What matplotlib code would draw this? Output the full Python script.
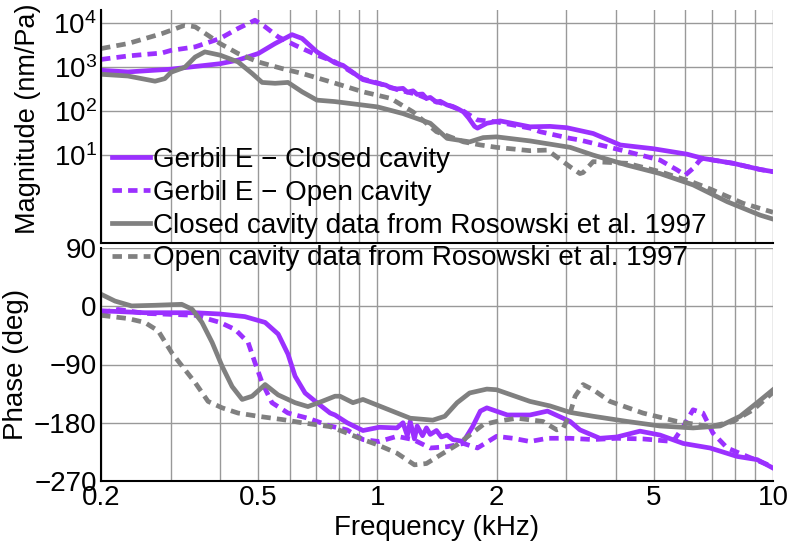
import numpy as np
import matplotlib
matplotlib.use("Agg")
import matplotlib.pyplot as plt
from matplotlib.ticker import FixedLocator, NullLocator, LogFormatterSciNotation, NullFormatter

plt.rcParams['font.family'] = ['Liberation Sans', 'DejaVu Sans']
plt.rcParams['mathtext.default'] = 'regular'

# ---- magnitude (nm/Pa) ----
f_mag_ce = [0.2, 0.234, 0.30, 0.40, 0.444, 0.50, 0.551, 0.608, 0.645, 0.703, 0.781, 0.818, 0.919, 1.0,
            1.05, 1.08, 1.12, 1.16, 1.19, 1.23, 1.26, 1.30, 1.33, 1.36, 1.41, 1.44, 1.50, 1.55, 1.60, 1.65,
            1.70, 1.76, 1.79, 1.89, 2.04, 2.43, 2.73, 3.01, 3.51, 4.11, 4.97, 6.06, 6.65, 7.93, 9.28, 10.0]
mag_ce = [850, 780, 900, 1200, 1450, 2050, 3450, 5500, 4500, 2230, 1250, 1100, 520, 430,
          390, 340, 320, 330, 270, 290, 240, 245, 195, 205, 160, 168, 138, 128, 112, 96,
          70, 45, 41, 53, 60, 44, 45, 42, 31, 17, 14, 10.5, 8.4, 6.5, 4.7, 4.2]

f_mag_oe = [0.2, 0.234, 0.258, 0.285, 0.30, 0.346, 0.40, 0.444, 0.490, 0.520, 0.561, 0.619, 0.703, 0.781,
            0.919, 1.0, 1.12, 1.26, 1.36, 1.50, 1.65, 1.79, 2.0, 2.43, 2.58, 3.07, 3.25, 4.2, 5.18, 5.72,
            6.0, 6.28, 6.54, 6.65, 7.93, 9.28, 10.0]
mag_oe = [1500, 1800, 1950, 2100, 2400, 2900, 4500, 7600, 11700, 8300, 4900, 3160, 1880, 1320,
          540, 440, 310, 240, 180, 140, 100, 63, 57, 41, 34, 24, 22, 12.5, 7.7, 4.6,
          3.5, 5.0, 7.7, 8.4, 6.5, 4.7, 4.2]

f_mag_cr = [0.2, 0.234, 0.274, 0.290, 0.301, 0.326, 0.346, 0.366, 0.40, 0.444, 0.482, 0.511, 0.551, 0.594,
            0.645, 0.703, 0.78, 1.0, 1.16, 1.36, 1.50, 1.71, 1.85, 2.0, 2.43, 3.07, 3.51, 4.28, 5.18,
            6.28, 7.66, 9.28, 10.0]
mag_cr = [690, 630, 480, 550, 770, 1000, 1700, 2230, 1880, 1320, 720, 450, 430, 450,
          275, 178, 165, 125, 88, 53, 24, 20, 25, 26, 21, 15, 10, 5.9, 3.8,
          2.1, 0.87, 0.43, 0.35]

f_mag_or = [0.2, 0.234, 0.285, 0.326, 0.346, 0.373, 0.40, 0.444, 0.499, 0.574, 0.645, 0.77, 0.919, 1.08,
            1.23, 1.41, 1.65, 1.82, 2.0, 2.43, 2.69, 3.07, 3.25, 3.31, 3.51, 4.28, 5.18, 6.28, 6.93,
            8.40, 10.0]
mag_or = [2650, 3450, 5800, 9000, 8300, 5300, 3450, 2050, 1320, 930, 720, 450, 275, 195,
          96, 34, 20, 17, 15, 12.6, 13, 5.4, 3.8, 4.0, 7.1, 6.5, 4.2, 2.4, 1.7,
          0.8, 0.5]

# ---- phase (deg) ----
f_ph_ce = [0.2, 0.258, 0.346, 0.40, 0.462, 0.520, 0.561, 0.594, 0.619, 0.656, 0.703, 0.759, 0.781, 0.838,
           0.919, 1.01, 1.12, 1.16, 1.19, 1.21, 1.24, 1.26, 1.30, 1.33, 1.36, 1.41, 1.45, 1.50, 1.55,
           1.65, 1.74, 1.82, 1.89, 2.13, 2.43, 2.69, 3.07, 3.25, 3.65, 4.03, 4.61, 5.18, 5.93, 6.93,
           8.11, 9.12, 10.0]
ph_ce = [-7, -10, -10, -12, -16, -25, -43, -74, -108, -134, -149, -165, -168, -180,
         -192, -187, -188, -180, -200, -178, -205, -185, -200, -188, -198, -192, -202, -199, -206,
         -209, -186, -162, -157, -168, -168, -162, -178, -191, -204, -202, -193, -199, -212, -219,
         -232, -237, -250]

f_ph_oe = [0.2, 0.221, 0.258, 0.346, 0.40, 0.437, 0.471, 0.490, 0.511, 0.541, 0.594, 0.667, 0.759, 0.838,
           0.919, 1.01, 1.12, 1.23, 1.36, 1.50, 1.65, 1.79, 2.0, 2.20, 2.43, 2.69, 3.07, 3.51, 4.03,
           4.69, 5.59, 5.93, 6.28, 6.65, 7.05, 7.66, 8.60, 10.0]
ph_oe = [-10, -5, -11, -14, -25, -36, -56, -87, -118, -149, -165, -173, -185, -191,
         -206, -209, -201, -206, -219, -217, -212, -219, -201, -204, -209, -204, -204, -206, -204,
         -205, -209, -186, -160, -165, -196, -219, -232, -248]

f_ph_cr = [0.2, 0.217, 0.239, 0.274, 0.320, 0.340, 0.360, 0.382, 0.405, 0.429, 0.455, 0.482, 0.520, 0.561,
           0.619, 0.667, 0.724, 0.781, 0.804, 0.867, 0.919, 1.21, 1.38, 1.48, 1.59, 1.71, 1.89, 2.0,
           2.43, 2.73, 3.07, 3.51, 4.28, 5.18, 6.28, 7.35, 8.26, 9.12, 10.0]
ph_cr = [18.6, 8, 0.5, 1.5, 3, -4.7, -25, -56, -93, -124, -144, -139, -121, -137,
         -149, -155, -147, -139, -139, -149, -144, -173, -176, -170, -149, -134, -128, -129,
         -147, -154, -164, -170, -178, -185, -188, -185, -170, -149, -129]

f_ph_or = [0.2, 0.234, 0.258, 0.279, 0.302, 0.326, 0.346, 0.373, 0.405, 0.444, 0.499, 0.574, 0.645, 0.759,
           0.838, 0.919, 1.0, 1.12, 1.24, 1.33, 1.44, 1.59, 1.71, 1.85, 2.0, 2.25, 2.62, 2.84, 2.95,
           3.07, 3.16, 3.31, 3.51, 3.87, 4.69, 5.72, 6.93, 7.93, 8.91, 9.83, 10.0]
ph_or = [-14, -19, -25, -38, -72, -98, -118, -147, -157, -165, -170, -175, -180, -186,
         -196, -206, -214, -227, -245, -243, -230, -214, -199, -183, -178, -173, -178, -191, -188,
         -165, -139, -121, -129, -147, -165, -178, -186, -178, -160, -137, -133]

labels = ["Gerbil E \u2212 Closed cavity", "Gerbil E \u2212 Open cavity",
          "Closed cavity data from Rosowski et al. 1997", "Open cavity data from Rosowski et al. 1997"]

purple = '#9B30FF'
grey = '#808080'
lw = 3.4
dash = (0, (2.0, 1.3))
fs = 20

fig = plt.figure(figsize=(7.89, 5.49), dpi=100)
ax1 = fig.add_axes([101/789, 1-243/549, 672/789, 233/549])
ax2 = fig.add_axes([101/789, 1-481/549, 672/789, 233/549])

ax1.plot(f_mag_ce, mag_ce, color=purple, lw=lw)
ax1.plot(f_mag_oe, mag_oe, color=purple, lw=lw, ls=dash)
ax1.plot(f_mag_cr, mag_cr, color=grey, lw=lw)
ax1.plot(f_mag_or, mag_or, color=grey, lw=lw, ls=dash)

l1, = ax2.plot(f_ph_ce, ph_ce, color=purple, lw=lw)
l2, = ax2.plot(f_ph_oe, ph_oe, color=purple, lw=lw, ls=dash)
l3, = ax2.plot(f_ph_cr, ph_cr, color=grey, lw=lw)
l4, = ax2.plot(f_ph_or, ph_or, color=grey, lw=lw, ls=dash)

xgrid = [0.2, 0.3, 0.4, 0.5, 0.6, 0.7, 0.8, 0.9, 1, 2, 3, 4, 5, 6, 7, 8, 9, 10]
for ax in (ax1, ax2):
    ax.set_xscale('log')
    ax.set_xlim(0.2, 10)
    ax.xaxis.set_major_locator(FixedLocator([0.2, 0.5, 1, 2, 5, 10]))
    ax.xaxis.set_minor_locator(FixedLocator(xgrid))
    ax.xaxis.set_major_formatter(plt.FuncFormatter(lambda v, p: '%g' % v))
    ax.xaxis.set_minor_formatter(NullFormatter())
    ax.grid(True, which='both', axis='x', color='#999999', lw=1)
    ax.grid(True, which='major', axis='y', color='#999999', lw=1)
    ax.set_axisbelow(True)
    ax.spines['top'].set_visible(False)
    ax.spines['right'].set_visible(False)
    ax.spines['left'].set_linewidth(1.5)
    ax.spines['bottom'].set_linewidth(1.5)
    ax.tick_params(which='both', length=0, labelsize=fs, pad=3)
    ax.patch.set_alpha(0)

ax1.set_yscale('log')
ax1.set_ylim(0.1, 2e4)
ax1.yaxis.set_major_locator(FixedLocator([10, 100, 1000, 10000]))
ax1.yaxis.set_minor_locator(NullLocator())
ax1.yaxis.set_major_formatter(LogFormatterSciNotation())
ax1.tick_params(axis='x', labelbottom=False)
ax1.set_ylabel('Magnitude (nm/Pa)', fontsize=19.5)
ax1.yaxis.set_label_coords(-0.089, 0.535)

ax2.set_ylim(-270, 90)
ax2.set_yticks([90, 0, -90, -180, -270])
ax2.set_ylabel('Phase (deg)', fontsize=fs, labelpad=4)
ax2.set_xlabel('Frequency (kHz)', fontsize=fs, labelpad=3)

fig.legend([l1, l2, l3, l4], labels, loc='upper left', bbox_to_anchor=(112/789, 1-147/549),
           frameon=False, fontsize=fs, handlelength=1.35, handletextpad=0.12,
           labelspacing=0.245, borderpad=0, borderaxespad=0)

fig.savefig('out.png', dpi=100)
